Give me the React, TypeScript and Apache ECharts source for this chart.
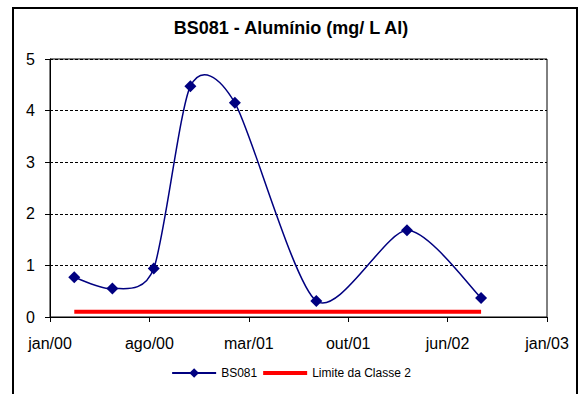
import React, { useEffect, useRef } from "react";
import * as echarts from "echarts";

const sampleDates = [
  "2000-02-23",
  "2000-05-17",
  "2000-08-17",
  "2000-11-06",
  "2001-02-12",
  "2001-08-10",
  "2002-02-25",
  "2002-08-08",
];
const aluminio = [0.77, 0.55, 0.94, 4.47, 4.15, 0.31, 1.68, 0.37];
const limiteClasse2 = 0.1;
const tickLabels = ["jan/00", "ago/00", "mar/01", "out/01", "jun/02", "jan/03"];
const tickStepMonths = 7.2;

function toMonths(d: string): number {
  const [y, m, day] = d.split("-").map(Number);
  const dim = new Date(y, m, 0).getDate();
  return (y - 2000) * 12 + (m - 1) + (day - 1) / dim;
}

export default function App() {
  const ref = useRef<HTMLDivElement>(null);
  useEffect(() => {
    if (!ref.current) return;
    const chart = echarts.init(ref.current, null, { renderer: "svg" });
    const xs = sampleDates.map(toMonths);
    const pts = xs.map((x, i) => [x, aluminio[i]]);
    const font = "Liberation Sans, Arial, sans-serif";
    const navy = "#000080";

    // Excel-like smoothed line (Catmull-Rom style cubic Bezier) drawn in pixel space
    const renderSpline = (params: any, api: any) => {
      if (params.dataIndex !== 0) return null;
      const p = pts.map((d) => api.coord(d));
      const n = p.length;
      const children: any[] = [];
      const t = 0.13;
      for (let i = 0; i < n - 1; i++) {
        const p0 = p[Math.max(i - 1, 0)];
        const p1 = p[i];
        const p2 = p[i + 1];
        const p3 = p[Math.min(i + 2, n - 1)];
        children.push({
          type: "bezierCurve",
          shape: {
            x1: p1[0],
            y1: p1[1],
            cpx1: p1[0] + (p2[0] - p0[0]) * t,
            cpy1: p1[1] + (p2[1] - p0[1]) * t,
            cpx2: p2[0] - (p3[0] - p1[0]) * t,
            cpy2: p2[1] - (p3[1] - p1[1]) * t,
            x2: p2[0],
            y2: p2[1],
          },
          style: { stroke: navy, lineWidth: 1.5, fill: "none" },
        });
      }
      return { type: "group", children };
    };

    chart.setOption({
      animation: false,
      backgroundColor: "#fff",
      textStyle: { fontFamily: font },
      title: {
        text: "BS081 - Alumínio (mg/ L Al)",
        left: "center",
        top: 14,
        textStyle: { fontSize: 18, fontWeight: "bold", color: "#000", fontFamily: font },
      },
      graphic: [
        {
          type: "rect",
          shape: { x: 13, y: 8, width: 564, height: 400 },
          style: { fill: "none", stroke: "#000", lineWidth: 2 },
          silent: true,
        },
      ],
      grid: {
        left: 50,
        right: 35,
        top: 59,
        bottom: 77,
        show: true,
        borderColor: "#000",
        borderWidth: 1,
      },
      legend: {
        top: 362,
        left: "center",
        itemWidth: 44,
        itemHeight: 12,
        itemGap: 6,
        textStyle: { fontSize: 12, color: "#000", fontFamily: font },
        data: [
          {
            name: "BS081",
            lineStyle: { color: navy, width: 2, opacity: 1 },
          },
          { name: "Limite da Classe 2", icon: "path://M0,0 H44 V4 H0 Z" },
        ],
      },
      xAxis: {
        type: "value",
        min: 0,
        max: tickStepMonths * (tickLabels.length - 1),
        interval: tickStepMonths,
        splitLine: { show: false },
        axisLine: { lineStyle: { color: "#000", width: 1 } },
        axisTick: { show: true, length: 5, lineStyle: { color: "#000" } },
        axisLabel: {
          color: "#000",
          fontSize: 16,
          margin: 18,
          fontFamily: font,
          formatter: (v: number) => tickLabels[Math.round(v / tickStepMonths)] ?? "",
        },
      },
      yAxis: {
        type: "value",
        min: 0,
        max: 5,
        interval: 1,
        axisLine: { show: true, lineStyle: { color: "#000", width: 1 } },
        axisTick: { show: true, length: 5, lineStyle: { color: "#000" } },
        axisLabel: { color: "#000", fontSize: 16, margin: 15, fontFamily: font },
        splitLine: { show: true, lineStyle: { color: "#000", type: [3, 2], width: 1 } },
      },
      series: [
        {
          name: "Limite da Classe 2",
          type: "line",
          data: [
            [xs[0], limiteClasse2],
            [xs[xs.length - 1], limiteClasse2],
          ],
          showSymbol: false,
          symbol: "none",
          lineStyle: { color: "#ff0000", width: 4 },
          itemStyle: { color: "#ff0000" },
          z: 2,
        },
        {
          name: "BS081 curve",
          type: "custom",
          data: pts,
          renderItem: renderSpline,
          silent: true,
          z: 3,
        },
        {
          name: "BS081",
          type: "line",
          data: pts,
          symbol: "diamond",
          symbolSize: 12,
          lineStyle: { color: navy, width: 1.5, opacity: 0 },
          itemStyle: { color: navy },
          z: 4,
        },
      ],
    });
    return () => chart.dispose();
  }, []);
  return (
    <div
      ref={ref}
      style={{ position: "fixed", left: 0, top: 0, width: 582, height: 394 }}
    />
  );
}
